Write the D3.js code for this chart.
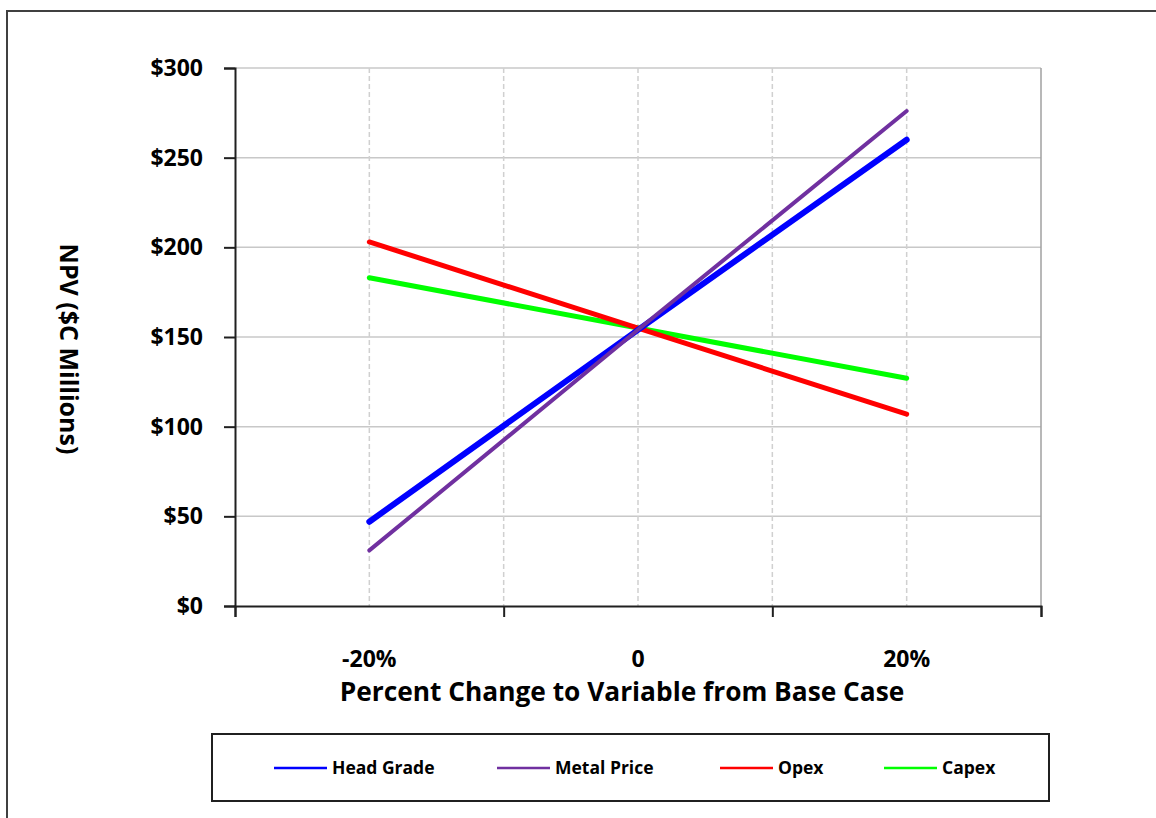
<!DOCTYPE html>
<html><head><meta charset="utf-8">
<script src="https://cdn.jsdelivr.net/npm/d3@7"></script>
<style>body{margin:0;background:#fff}svg{display:block}text{font-family:"Open Sans",Lato,sans-serif;font-weight:700;fill:#000}</style>
</head><body>
<script>
const xValues = [-20, 0, 20];
const xTickLabels = ["-20%", "0", "20%"];
const seriesNames = ["Head Grade", "Metal Price", "Opex", "Capex"];
const headGrade = [47, 154, 260];
const metalPrice = [31, 154, 276];
const opex = [203, 155, 107];
const capex = [183, 155, 127];
const yTicks = [0, 50, 100, 150, 200, 250, 300];
const colors = ["#0000ff", "#7030a0", "#ff0000", "#00ff00"];
const widths = [6, 4, 5, 5];

const W = 1156, H = 818;
const svg = d3.select("body").append("svg").attr("width", W).attr("height", H);
svg.append("rect").attr("x", 7).attr("y", 11).attr("width", W + 10).attr("height", H + 10)
  .attr("fill", "none").attr("stroke", "#404040").attr("stroke-width", 2);

const L = 235, R = 1041, T = 68, B = 606;
const x = d3.scaleLinear().domain([-30, 30]).range([L, R]);
const y = d3.scaleLinear().domain([0, 300]).range([B, T]);

svg.append("g").selectAll("line").data(yTicks.filter(d => d > 0)).join("line")
  .attr("x1", L).attr("x2", R).attr("y1", d => y(d)).attr("y2", d => y(d))
  .attr("stroke", "#c8c8c8").attr("stroke-width", 1.5);
svg.append("g").selectAll("line").data([-20, -10, 0, 10, 20]).join("line")
  .attr("x1", d => x(d)).attr("x2", d => x(d)).attr("y1", T).attr("y2", B)
  .attr("stroke", "#d0d0d0").attr("stroke-width", 1.5).attr("stroke-dasharray", "5,3");
svg.append("line").attr("x1", R).attr("x2", R).attr("y1", T).attr("y2", B)
  .attr("stroke", "#a0a0a0").attr("stroke-width", 1.5);

const yAxis = svg.append("g").attr("transform", `translate(${L},0)`)
  .call(d3.axisLeft(y).tickValues(yTicks).tickSize(11).tickPadding(21).tickFormat(d => "$" + d));
yAxis.select(".domain").attr("stroke", "#202020").attr("stroke-width", 2);
yAxis.selectAll(".tick line").attr("stroke", "#202020").attr("stroke-width", 2);
yAxis.selectAll("text").attr("font-size", 23).attr("font-family", "Open Sans").attr("font-weight", 700).attr("fill", "#000");

const xAxis = svg.append("g").attr("transform", `translate(0,${B})`)
  .call(d3.axisBottom(x).tickValues([-30, -10, 10, 30]).tickSize(11).tickFormat(""));
xAxis.select(".domain").attr("stroke", "#202020").attr("stroke-width", 2);
xAxis.selectAll(".tick line").attr("stroke", "#202020").attr("stroke-width", 2);
svg.append("g").selectAll("text").data(xValues).join("text")
  .attr("x", d => x(d)).attr("y", 667).attr("text-anchor", "middle").attr("font-size", 23)
  .text((d, i) => xTickLabels[i]);

svg.append("text").attr("x", 622).attr("y", 701).attr("text-anchor", "middle").attr("font-size", 26.3)
  .text("Percent Change to Variable from Base Case");
svg.append("text").attr("transform", "translate(60,349) rotate(90)").attr("text-anchor", "middle").attr("font-size", 25)
  .text("NPV ($C Millions)");

const all = [headGrade, metalPrice, opex, capex];
const line = d3.line().x((d, i) => x(xValues[i])).y(d => y(d));
const order = [3, 2, 0, 1];
svg.append("g").selectAll("path").data(order).join("path")
  .attr("d", k => line(all[k])).attr("fill", "none")
  .attr("stroke", k => colors[k]).attr("stroke-width", k => widths[k]).attr("stroke-linecap", "round");

svg.append("rect").attr("x", 212).attr("y", 734).attr("width", 837).attr("height", 67)
  .attr("fill", "#fff").attr("stroke", "#202020").attr("stroke-width", 2);
const legX = [274, 497, 720, 884];
const leg = svg.append("g").selectAll("g").data(seriesNames).join("g")
  .attr("transform", (d, i) => `translate(${legX[i]},768)`);
leg.append("line").attr("x1", 0).attr("x2", 53).attr("stroke", (d, i) => colors[i]).attr("stroke-width", 2.5);
leg.append("text").attr("x", 58).attr("y", 6).attr("font-size", 17.5).text(d => d);
</script>
</body></html>
